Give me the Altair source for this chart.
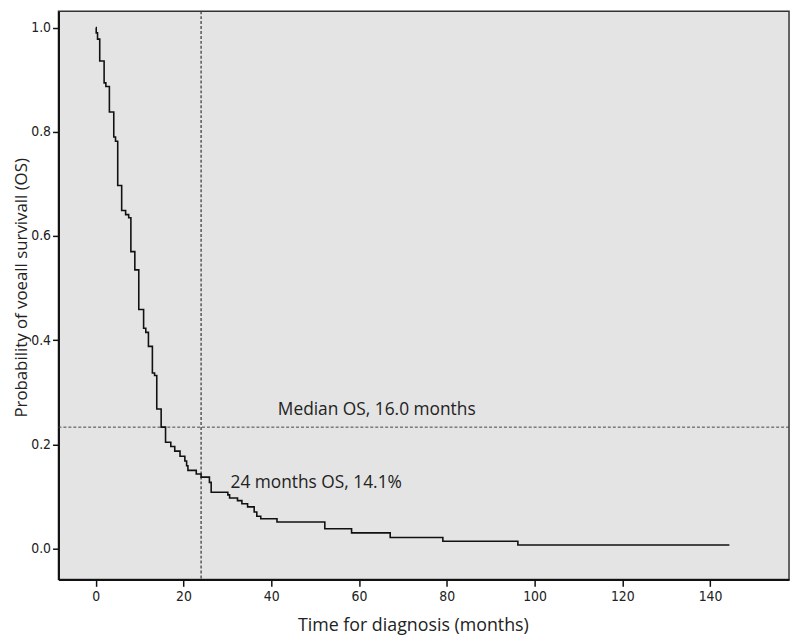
import altair as alt
import pandas as pd

# Kaplan-Meier step points (time in months, survival probability after the drop)
times = [0, 0.1, 0.4, 0.9, 1.9, 2.3, 3.1, 4.1, 4.5, 5.0, 5.9, 6.8, 7.5, 8.0, 8.9, 9.8,
         10.9, 11.4, 12.0, 12.9, 13.4, 13.9, 14.9, 15.9, 17.1, 18.0, 19.2, 20.3, 20.7,
         21.0, 22.9, 24.0, 25.9, 26.3, 30.1, 30.5, 32.3, 33.3, 34.6, 36.1, 36.7, 37.6,
         41.3, 52.2, 58.3, 67.1, 79.1, 96.2, 144.4]
surv = [1.0, 0.99, 0.978, 0.936, 0.894, 0.887, 0.838, 0.790, 0.782, 0.697, 0.649, 0.641,
        0.635, 0.570, 0.535, 0.459, 0.423, 0.415, 0.388, 0.337, 0.332, 0.268, 0.233, 0.204,
        0.196, 0.187, 0.177, 0.168, 0.159, 0.150, 0.143, 0.137, 0.127, 0.108, 0.103, 0.097,
        0.092, 0.086, 0.080, 0.070, 0.062, 0.057, 0.051, 0.038, 0.030, 0.021, 0.014, 0.0067,
        0.0067]

ref_time = [24]
ref_surv = [0.233]

ann_text = ["Median OS, 16.0 months", "24 months OS, 14.1%"]
ann_x = [41.5, 30.7]
ann_y = [0.266, 0.125]

x_ticks = [0, 20, 40, 60, 80, 100, 120, 140]
y_ticks = [0.0, 0.2, 0.4, 0.6, 0.8, 1.0]

km = pd.DataFrame({"t": times, "s": surv})
vref = pd.DataFrame({"t": ref_time})
href = pd.DataFrame({"s": ref_surv})
ann = pd.DataFrame({"text": ann_text, "t": ann_x, "s": ann_y})

xscale = alt.Scale(domain=[-8.5, 158.0], nice=False, zero=False)
yscale = alt.Scale(domain=[-0.0593, 1.0316], nice=False, zero=False)

lab_font = "DejaVu Sans Condensed, Liberation Sans Narrow, sans-serif"
txt_font = "Open Sans"

xaxis = alt.Axis(values=x_ticks, title="Time for diagnosis (months)", grid=False,
                 format="d", tickSize=7, tickWidth=1.5, tickColor="#111",
                 domainColor="#111", domainWidth=2, labelPadding=3,
                 labelFont=lab_font, labelFontSize=14, labelColor="#222",
                 titleFont=txt_font, titleFontSize=18, titleFontWeight="normal",
                 titleColor="#222", titleX=358, titleY=47, titleAlign="center",
                 titleBaseline="middle")
yaxis = alt.Axis(values=y_ticks, title="Probability of voeall survivall (OS)", grid=False,
                 format=".1f", tickSize=6, tickWidth=1.5, tickColor="#111",
                 domainColor="#111", domainWidth=2, labelPadding=2,
                 labelFont=lab_font, labelFontSize=14, labelColor="#222",
                 titleFont=txt_font, titleFontSize=17, titleFontWeight="normal",
                 titleColor="#222", titleX=-37, titleY=279, titleAngle=270,
                 titleAlign="center", titleBaseline="middle")

line = alt.Chart(km).mark_line(interpolate="step-after", color="#111", strokeWidth=1.6).encode(
    x=alt.X("t:Q", scale=xscale, axis=xaxis),
    y=alt.Y("s:Q", scale=yscale, axis=yaxis),
)

vline = alt.Chart(vref).mark_rule(color="#333", strokeWidth=1.2, strokeDash=[3, 2]).encode(
    x=alt.X("t:Q", scale=xscale)
)
hline = alt.Chart(href).mark_rule(color="#444", strokeWidth=1, strokeDash=[3, 2]).encode(
    y=alt.Y("s:Q", scale=yscale)
)

texts = alt.Chart(ann).mark_text(align="left", baseline="middle", font=txt_font,
                                 fontSize=17.5, color="#222").encode(
    x=alt.X("t:Q", scale=xscale),
    y=alt.Y("s:Q", scale=yscale),
    text="text:N",
)

chart = alt.layer(vline, hline, line, texts).properties(
    width=738, height=574,
    autosize=alt.AutoSizeParams(type="none"),
    padding={"left": 51, "top": 0, "right": 3, "bottom": 58},
    background="white",
).configure_view(
    fill="#e4e4e4", stroke="#333", strokeWidth=1.5
)

chart.save("out.html", embed_options={"renderer": "svg", "actions": False})
